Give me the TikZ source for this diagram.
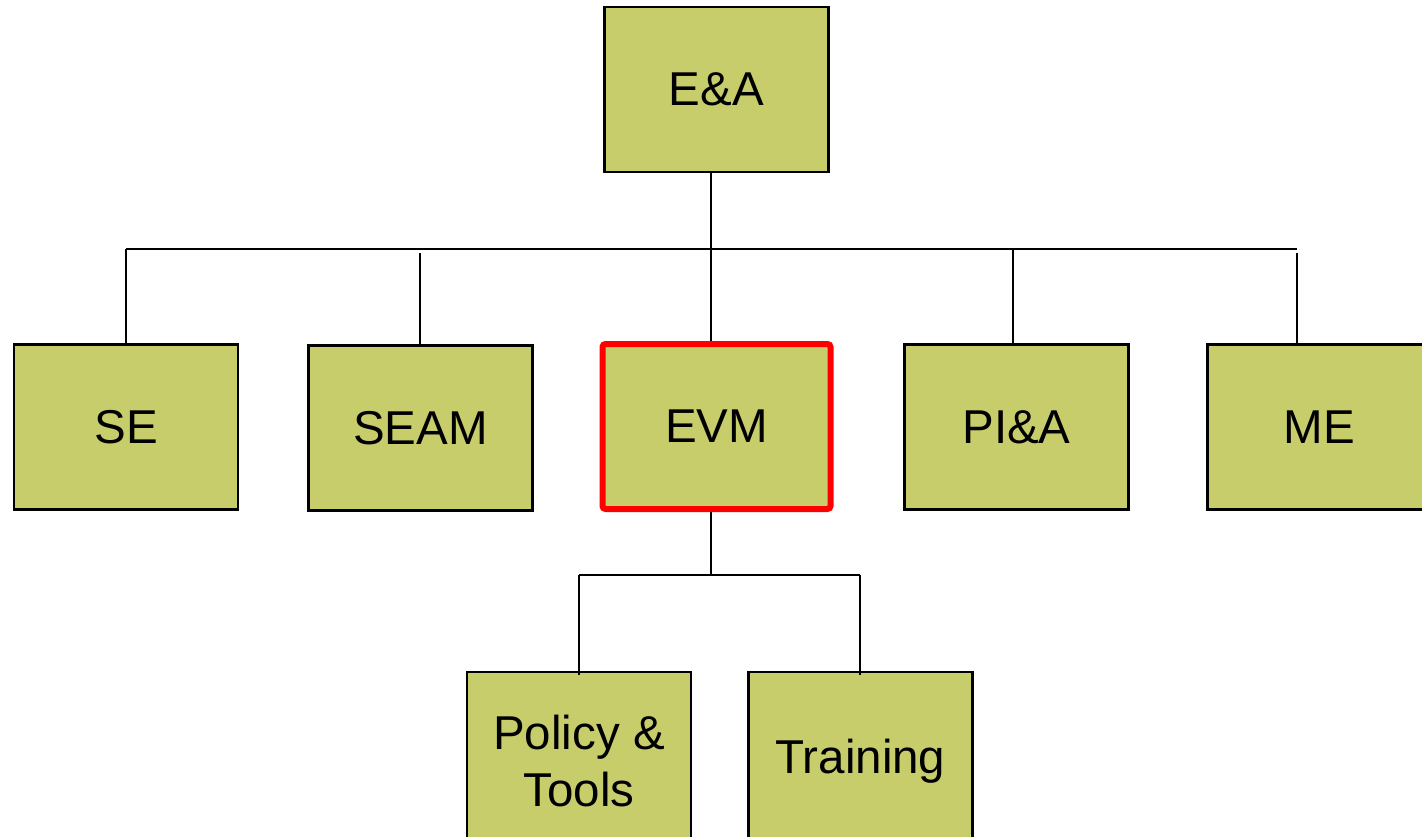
\documentclass[tikz,border=0pt]{standalone}
\usepackage{fontspec}
\setmainfont{Liberation Sans}
\definecolor{boxfill}{HTML}{C8CD6C}
\begin{document}
\begin{tikzpicture}[x=1pt,y=-1pt,
  orgbox/.style={draw=black,line width=2.5pt,fill=boxfill,minimum width=224pt,minimum height=165pt,inner sep=0pt,align=center,font=\fontsize{47.5}{57}\selectfont},
  hilite/.style={orgbox,draw=red,line width=6pt,rounded corners=3pt,minimum width=228pt,minimum height=165pt},
  link/.style={draw=black,line width=2.5pt}]
\useasboundingbox (0,0) rectangle (1422,836);
\clip (0,0) rectangle (1422,836);
\node[orgbox] (ea) at (716.5,89.5) {E\&A};
\node[orgbox] (se) at (126,427) {SE};
\node[orgbox] (seam) at (420.5,428) {SEAM};
\node[hilite] (evm) at (716.5,426.5) {EVM};
\node[orgbox] (pia) at (1016.5,427) {PI\&A};
\node[orgbox] (me) at (1319.5,427) {ME};
\node[orgbox,minimum height=178pt] (pt) at (579,761) {Policy \&\\Tools};
\node[orgbox,minimum height=178pt] (tr) at (860.5,761) {Training};
% bus coordinates
\coordinate (busL) at (126,249);
\coordinate (busR) at (1297,249);
\coordinate (eatop) at (711,249);
\coordinate (seamtop) at (420,253);
\coordinate (piatop) at (1013,249);
\coordinate (metop) at (1297,253);
\coordinate (subbus) at (711,575);
\coordinate (subL) at (579,575);
\coordinate (subR) at (860,575);
\draw[link] (ea.south -| eatop) -- (eatop);
\draw[link] (busL) -- (busR);
\draw[link] (busL) -- (se.north);
\draw[link] (seamtop) -- (seamtop |- seam.north);
\draw[link] (eatop) -- (eatop |- evm.north);
\draw[link] (piatop) -- (piatop |- pia.north);
\draw[link] (metop) -- (metop |- me.north);
\draw[link] (subbus |- evm.south) -- (subbus);
\draw[link] (subL) -- (subR);
\draw[link] (subL) -- ([yshift=-4pt]pt.north);
\draw[link] (subR) -- ([yshift=-4pt]subR |- tr.north);
\end{tikzpicture}
\end{document}
